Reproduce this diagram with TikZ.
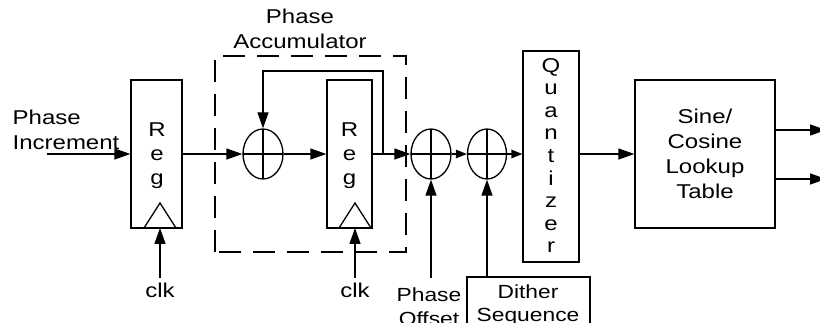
\documentclass[tikz,border=0pt]{standalone}
\usepackage{fontspec}
\setmainfont{Liberation Sans}[FakeStretch=1.2]
\usetikzlibrary{arrows.meta,shapes.geometric}
\begin{document}
\begin{tikzpicture}[x=1pt,y=-1pt,line width=1.3pt,
  arr/.style={-{Triangle[length=16pt,width=11pt]}},
  sarr/.style={-{Triangle[length=11pt,width=8.5pt]}},
  box/.style={draw,rectangle,inner sep=0pt},
  adder/.style={draw,ellipse,minimum width=40pt,minimum height=50pt,inner sep=0pt,
    path picture={\draw (path picture bounding box.north) -- (path picture bounding box.south)
      (path picture bounding box.west) -- (path picture bounding box.east);}},
  txt/.style={inner sep=0pt,align=center,anchor=base,font=\fontsize{20}{25}\selectfont},
  accbox/.style={draw,dash pattern=on 22pt off 12pt},
]
\useasboundingbox (0,0) rectangle (820,323);
\clip (0,0) rectangle (820,323);

% blocks
\node[box,minimum width=51pt,minimum height=148pt] (reg1) at (156.5,154) {};
\node[box,minimum width=45pt,minimum height=148pt] (reg2) at (349.5,154) {};
\node[adder] (add1) at (263,154) {};
\node[adder] (add2) at (431,154) {};
\node[adder,minimum width=39pt] (add3) at (487,154) {};
\node[box,minimum width=56pt,minimum height=211pt] (quant) at (551,156.5) {};
\node[box,minimum width=140pt,minimum height=148pt] (sine) at (705,154) {};
\node[box,minimum width=123pt,minimum height=63pt] (dith) at (528.5,308.5) {};

% accumulator frame
\draw[accbox] (215,252) -- (215,56) -- (406,56) -- (406,252) -- cycle;

% clock triangles
\draw (144,228) -- (160,203) -- (176,228);
\draw (339,228) -- (355,203) -- (371,228);

% texts (anchor = baseline of the last line)
\node[txt,anchor=base west,align=left] (inc) at (12,150) {Phase\\Increment};
\node[txt] (acct) at (300,49) {Phase\\Accumulator};
\node[txt,font=\fontsize{20}{24}\selectfont] (r1t) at (157,185) {R\\e\\g};
\node[txt,font=\fontsize{20}{24}\selectfont] (r2t) at (349.5,185) {R\\e\\g};
\node[txt,font=\fontsize{20}{22.6}\selectfont] (qt) at (551,253) {Q\\u\\a\\n\\t\\i\\z\\e\\r};
\node[txt] (st) at (705,199) {Sine/\\Cosine\\Lookup\\Table};
\node[txt] (clk1) at (160,298) {clk};
\node[txt] (clk2) at (355,298) {clk};
\node[txt,font=\fontsize{19}{24}\selectfont] (pot) at (429,326) {Phase\\Offset};
\node[txt,font=\fontsize{19}{23}\selectfont] (dt) at (528,322) {Dither\\Sequence};

% coordinates
\coordinate (inS) at (47,154);
\coordinate (fb) at (383,154);
\coordinate (c1a) at (160,278);
\coordinate (c1b) at (160,228);
\coordinate (c2a) at (355,278);
\coordinate (c2b) at (355,228);
\coordinate (poa) at (431,278);
\coordinate (o1) at (826,130);
\coordinate (o2) at (826,179);

% connectors
\draw[arr] (inS) -- (reg1.west);
\draw[arr] (reg1.east) -- (add1.west);
\draw[arr] (add1.east) -- (reg2.west);
\draw[arr] (reg2.east) -- (add2.west);
\draw[sarr] (add2.east) -- (add3.west);
\draw[sarr] (add3.east) -- (add3.east -| quant.west);
\draw[arr] (quant.east |- sine.west) -- (sine.west);
\draw[arr] (fb) -- (383,71) -| (add1.north);
\draw[arr] (c1a) -- (c1b);
\draw[arr] (c2a) -- (c2b);
\draw[arr] (poa) -- (add2.south);
\draw[arr] (dith.north -| add3.south) -- (add3.south);
\draw[arr] (sine.east |- o1) -- (o1);
\draw[arr] (sine.east |- o2) -- (o2);
\end{tikzpicture}
\end{document}
